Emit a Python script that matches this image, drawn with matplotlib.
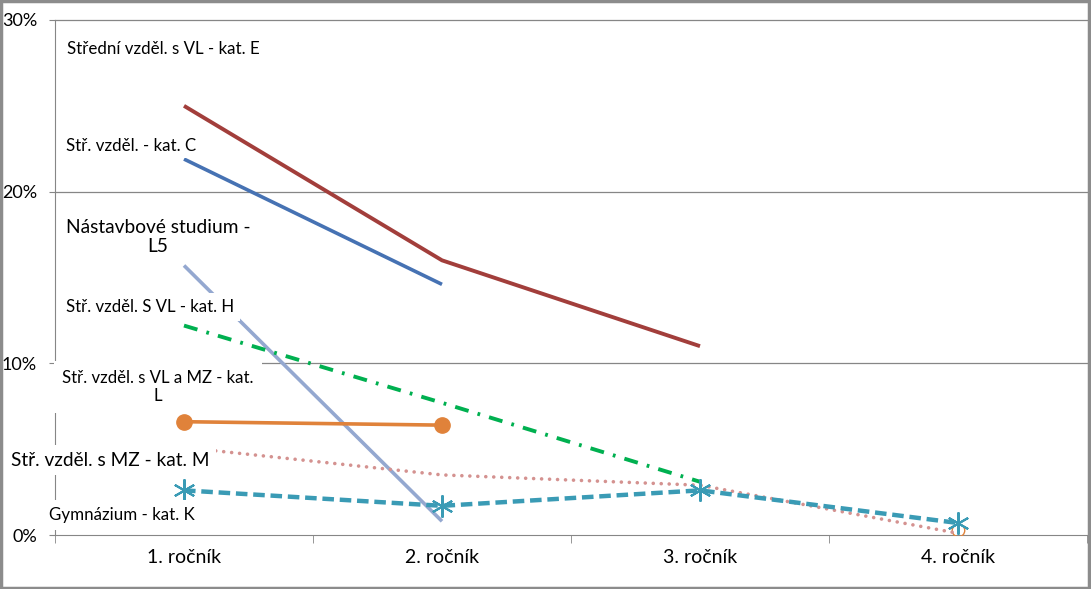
import matplotlib.pyplot as plt
from matplotlib.patches import Rectangle
import numpy as np

plt.rcParams['font.family'] = ['Lato', 'DejaVu Sans']

categories = ['1. ročník', '2. ročník', '3. ročník', '4. ročník']
yticks = [0, 10, 20, 30]
ytick_labels = ['0%', '10%', '20%', '30%']

# values in percent, None = missing
kat_e = [25.0, 16.0, 11.0, None]
kat_c = [21.9, 14.6, None, None]
l5 = [15.7, 0.8, None, None]
kat_h = [12.2, 7.7, 3.1, None]
kat_l = [6.6, 6.4, None, 0.3]
kat_m = [5.1, 3.5, 2.9, 0.1]
kat_k = [2.6, 1.7, 2.6, 0.7]


def arr(vals):
    return np.array([np.nan if v is None else v for v in vals], dtype=float)


x = np.arange(len(categories))

fig = plt.figure(figsize=(10.91, 5.89), dpi=100)
ax = fig.add_axes([55 / 1091, 54 / 589, 1032 / 1091, 515 / 589])

ax.plot(x, arr(kat_e), color='#A23E3B', lw=2.8, solid_capstyle='butt', zorder=3)
ax.plot(x, arr(kat_c), color='#4672B3', lw=2.6, solid_capstyle='butt', zorder=3)
ax.plot(x, arr(l5), color='#94A8D0', lw=2.6, solid_capstyle='butt', zorder=3)
ax.plot(x, arr(kat_h), color='#00B050', lw=2.8, dashes=(3.6, 2.4, 0.7, 2.4), zorder=3)

l_vals = arr(kat_l)
ax.plot(x[:2], l_vals[:2], color='#E0823A', lw=2.6, marker='o', ms=11, zorder=3)
ax.plot(x[3:], l_vals[3:], color='#E0823A', lw=0, marker='o', ms=9,
        mfc='none', mew=1, zorder=3)

ax.plot(x, arr(kat_m), color='#D49290', lw=2.6, linestyle=(0, (0.01, 2.2)),
        dash_capstyle='round', zorder=3)
ax.plot(x, arr(kat_k), color='#3A9BB5', lw=3.2, dashes=(2.6, 1.3),
        marker=(6, 2, 0), ms=16, mew=1.5, zorder=3)

ax.set_xlim(-0.5, 3.5)
ax.set_ylim(0, 30)

for v in [10, 20, 30]:
    ax.axhline(v, color='#868686', lw=0.9, zorder=1, clip_on=False)

ax.set_yticks(yticks)
ax.set_yticklabels(ytick_labels)
ax.set_xticks(x)
ax.set_xticklabels(categories)
ax.set_xticks([-0.5, 0.5, 1.5, 2.5, 3.5], minor=True)
ax.tick_params(axis='x', which='major', length=0, pad=10, labelsize=14)
ax.tick_params(axis='x', which='minor', length=6, direction='out', color='#868686')
ax.tick_params(axis='y', length=4, direction='out', color='#868686', labelsize=13, pad=9)

for s in ['top', 'right']:
    ax.spines[s].set_visible(False)
ax.spines['left'].set_color('#868686')
ax.spines['bottom'].set_color('#868686')

# labels placed in pixel coordinates from the top-left
labels = [
    (67, 49, 'Střední vzděl. s VL - kat. E', 12.2, 'left', 4),
    (66, 146, 'Stř. vzděl. - kat. C', 12.2, 'left', 3),
    (158, 237, 'Nástavbové studium -\nL5', 13.8, 'center', 3),
    (66, 307, 'Stř. vzděl. S VL - kat. H', 12.1, 'left', 4),
    (158, 387, 'Stř. vzděl. s VL a MZ - kat.\nL', 12.1, 'center', 6),
    (11, 460, 'Stř. vzděl. s MZ - kat. M', 13.7, 'left', 5),
    (49, 515, 'Gymnázium - kat. K', 12.2, 'left', 5),
]
for px, py, txt, fs, ha, pad in labels:
    fig.text(px / 1091, 1 - py / 589, txt, fontsize=fs, ha=ha, va='center',
             multialignment='center', linespacing=1.2, zorder=5,
             bbox=dict(facecolor='white', edgecolor='none', pad=pad))

fig.patches.append(Rectangle((0.001, 0.002), 0.997, 0.996, transform=fig.transFigure,
                             fill=False, edgecolor='#8C8C8C', lw=2.5))

fig.savefig('out.png', dpi=100)
